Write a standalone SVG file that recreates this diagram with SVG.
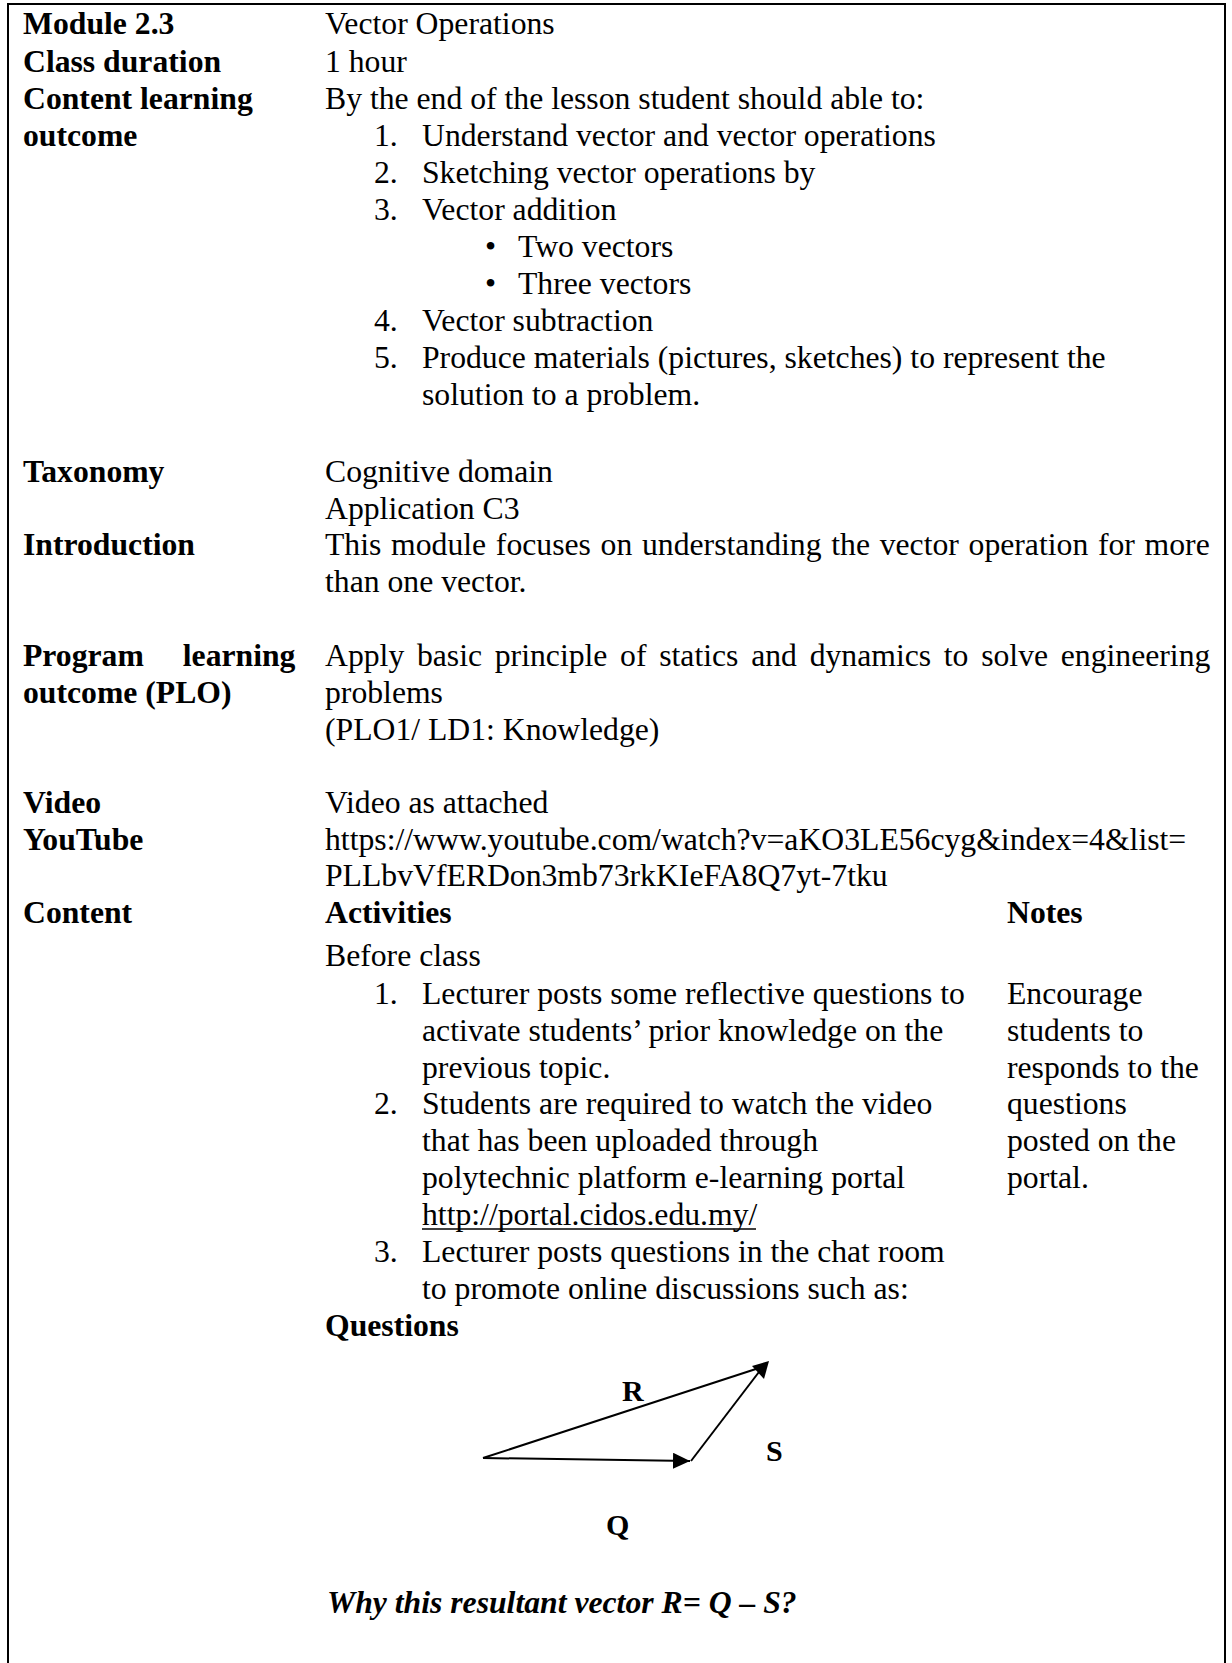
<svg xmlns="http://www.w3.org/2000/svg" width="1232" height="1663" viewBox="0 0 1232 1663">
  <style>
    text { font-family: "Liberation Serif", "Times New Roman", serif; font-size: 31.7px; fill: #000; }
    .b { font-weight: bold; }
    .bi { font-weight: bold; font-style: italic; }
    .lbl { font-weight: bold; font-size: 30px; }
    .frame { fill: none; stroke: #000; stroke-width: 2; }
    .vec { fill: none; stroke: #000; stroke-width: 2; }
  </style>
  <defs>
    <marker id="arrow" markerUnits="userSpaceOnUse" markerWidth="18" markerHeight="16" refX="17" refY="8" orient="auto">
      <path d="M0,0 L17,8 L0,16 Z" fill="#000"/>
    </marker>
  </defs>

  <rect width="1232" height="1663" fill="#fff"/>

  <!-- outer table border (open at the bottom, the page continues) -->
  <g id="table-frame">
    <path class="frame" d="M8,1663 V4 H1225 V1663"/>
  </g>

  <!-- left column headings -->
  <g id="row-labels">
    <text class="b" x="23" y="34">Module 2.3</text>
    <text class="b" x="23" y="72">Class duration</text>
    <text class="b" x="23" y="109">Content learning</text>
    <text class="b" x="23" y="146">outcome</text>
    <text class="b" x="23" y="482">Taxonomy</text>
    <text class="b" x="23" y="555">Introduction</text>
    <text class="b" x="23" y="666" word-spacing="31">Program learning</text>
    <text class="b" x="23" y="703">outcome (PLO)</text>
    <text class="b" x="23" y="813">Video</text>
    <text class="b" x="23" y="850">YouTube</text>
    <text class="b" x="23" y="923">Content</text>
  </g>

  <!-- module / duration / outcomes -->
  <g id="module-info">
    <text x="325" y="34">Vector Operations</text>
    <text x="325" y="72">1 hour</text>
    <text x="325" y="109">By the end of the lesson student should able to:</text>
    <text x="374" y="146">1.</text><text x="422" y="146">Understand vector and vector operations</text>
    <text x="374" y="183">2.</text><text x="422" y="183">Sketching vector operations by</text>
    <text x="374" y="220">3.</text><text x="422" y="220">Vector addition</text>
    <text x="485" y="257">•</text><text x="518" y="257">Two vectors</text>
    <text x="485" y="294">•</text><text x="518" y="294">Three vectors</text>
    <text x="374" y="331">4.</text><text x="422" y="331">Vector subtraction</text>
    <text x="374" y="368">5.</text><text x="422" y="368">Produce materials (pictures, sketches) to represent the</text>
    <text x="422" y="405">solution to a problem.</text>
  </g>

  <g id="taxonomy">
    <text x="325" y="482">Cognitive domain</text>
    <text x="325" y="519">Application C3</text>
  </g>

  <g id="introduction">
    <text x="325" y="555" word-spacing="1.8">This module focuses on understanding the vector operation for more</text>
    <text x="325" y="592">than one vector.</text>
  </g>

  <g id="plo">
    <text x="325" y="666" word-spacing="4.8">Apply basic principle of statics and dynamics to solve engineering</text>
    <text x="325" y="703">problems</text>
    <text x="325" y="740">(PLO1/ LD1: Knowledge)</text>
  </g>

  <g id="video">
    <text x="325" y="813">Video as attached</text>
    <text x="325" y="850">https://www.youtube.com/watch?v=aKO3LE56cyg&amp;index=4&amp;list=</text>
    <text x="325" y="886">PLLbvVfERDon3mb73rkKIeFA8Q7yt-7tku</text>
  </g>

  <!-- content: activities and notes -->
  <g id="activities">
    <text class="b" x="325" y="923">Activities</text>
    <text x="325" y="966">Before class</text>
    <text x="374" y="1004">1.</text><text x="422" y="1004">Lecturer posts some reflective questions to</text>
    <text x="422" y="1041">activate students’ prior knowledge on the</text>
    <text x="422" y="1078">previous topic.</text>
    <text x="374" y="1114">2.</text><text x="422" y="1114">Students are required to watch the video</text>
    <text x="422" y="1151">that has been uploaded through</text>
    <text x="422" y="1188">polytechnic platform e-learning portal</text>
    <text x="422" y="1225">http://portal.cidos.edu.my/</text>
    <line x1="422" y1="1229" x2="756" y2="1229" stroke="#000" stroke-width="1.5"/>
    <text x="374" y="1262">3.</text><text x="422" y="1262">Lecturer posts questions in the chat room</text>
    <text x="422" y="1299">to promote online discussions such as:</text>
    <text class="b" x="325" y="1336">Questions</text>
  </g>

  <g id="notes">
    <text class="b" x="1007" y="923">Notes</text>
    <text x="1007" y="1004">Encourage</text>
    <text x="1007" y="1041">students to</text>
    <text x="1007" y="1078">responds to the</text>
    <text x="1007" y="1114">questions</text>
    <text x="1007" y="1151">posted on the</text>
    <text x="1007" y="1188">portal.</text>
  </g>

  <!-- vector triangle: R = Q - S -->
  <g id="connectors">
    <line class="vec" x1="483" y1="1458" x2="690" y2="1461" marker-end="url(#arrow)"/>
    <line class="vec" x1="483" y1="1458" x2="762" y2="1367"/>
    <line class="vec" stroke-width="1.6" x1="691" y1="1461" x2="762" y2="1368"/>
    <polygon points="769,1361 752,1366 764,1379" fill="#000"/>
  </g>
  <g id="vector-labels">
    <text class="lbl" x="622" y="1401">R</text>
    <text class="lbl" x="766" y="1461">S</text>
    <text class="lbl" x="606" y="1535">Q</text>
  </g>

  <g id="question">
    <text class="bi" x="327" y="1613">Why this resultant vector R= Q – S?</text>
  </g>
</svg>
